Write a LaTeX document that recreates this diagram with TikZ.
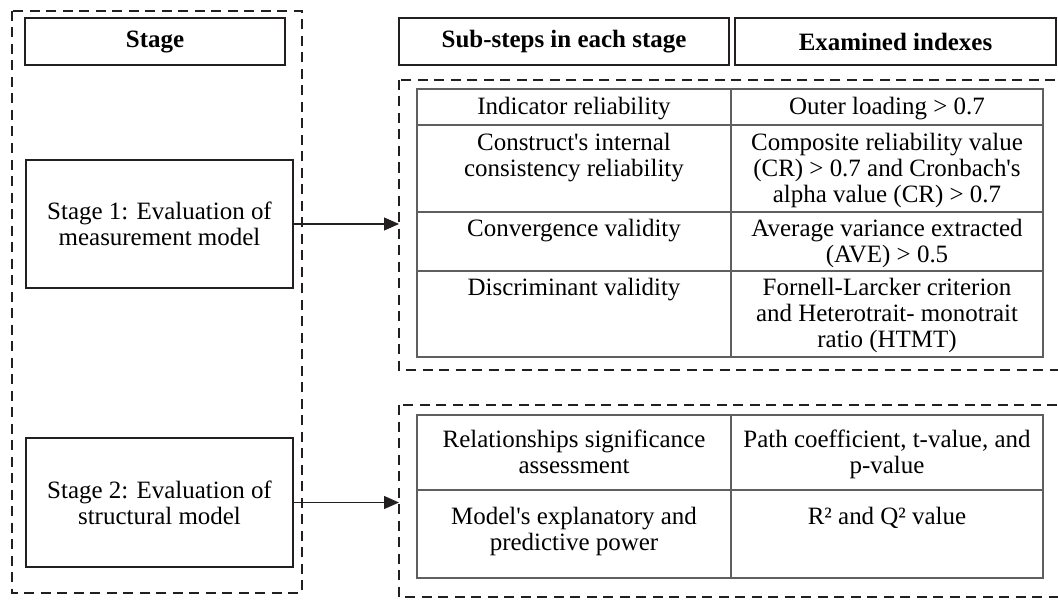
\documentclass[tikz,border=0pt]{standalone}
\usepackage{fontspec}
\setmainfont{Liberation Serif}[Ligatures=TeXOff]
\usepackage{tikz}
\usetikzlibrary{arrows.meta}
\definecolor{rulegray}{RGB}{95,95,95}
\definecolor{boxblack}{RGB}{35,31,32}
\newcommand{\cellfont}{\fontsize{14.2}{14.7}\selectfont}

\begin{document}
\begin{tikzpicture}[x=0.2mm,y=-0.2mm,
  boxnode/.style={draw=boxblack,line width=1.4pt,align=center,font=\cellfont,inner sep=0pt},
  headnode/.style={boxnode,font=\cellfont\bfseries,minimum height=9.4mm},
  groupline/.style={draw=boxblack,line width=1.4pt,dash pattern=on 2mm off 1.3mm},
  tabline/.style={draw=rulegray,line width=0.6pt},
  celltext/.style={anchor=north,align=center,inner sep=0pt,font=\cellfont},
  conn/.style={draw=boxblack,line width=0.6pt,-{Triangle[length=3mm,width=2.6mm]}}]
\useasboundingbox (0,0) rectangle (1058,600);

% stage column
\draw[groupline] (12,11) rectangle (302,593);
\node[headnode,minimum width=52mm] (stagehead) at (155,41.5) {Stage};
\node[boxnode,minimum width=53.4mm,minimum height=25.6mm] (stageA) at (159.5,224) {Stage 1: Evaluation of\\measurement model};
\node[boxnode,minimum width=53.4mm,minimum height=25.8mm] (stageB) at (159.5,502.5) {Stage 2: Evaluation of\\structural model};

% column heads
\node[headnode,minimum width=66mm] (subhead) at (564,41.5) {Sub-steps in each stage};
\node[headnode,minimum width=64.2mm] (idxhead) at (895.5,41.5) {Examined indexes};

% measurement model
\draw[groupline] (399,80) rectangle (1064,370);
\coordinate (grpA) at (399,225);
\draw[tabline] (417,89) rectangle (1043,357);
\draw[tabline] (731,89) -- (731,357);
\foreach \y in {125,212,271} \draw[tabline] (417,\y) -- (1043,\y);
\node[celltext] (indsub) at (574,97) {Indicator reliability};
\node[celltext] (indidx) at (887,97) {Outer loading > 0.7};
\node[celltext] (consub) at (574,133) {Construct's internal\\consistency reliability};
\node[celltext] (conidx) at (887,133) {Composite reliability value\\(CR) > 0.7 and Cronbach's\\alpha value (CR) > 0.7};
\node[celltext] (cvgsub) at (574,219) {Convergence validity};
\node[celltext] (cvgidx) at (887,219) {Average variance extracted\\(AVE) > 0.5};
\node[celltext] (dissub) at (574,278) {Discriminant validity};
\node[celltext] (disidx) at (887,278) {Fornell-Larcker criterion\\and Heterotrait- monotrait\\ratio (HTMT)};

% structural model
\draw[groupline] (399,405) rectangle (1064,597);
\coordinate (grpB) at (399,501);
\draw[tabline] (417,415) rectangle (1043,578);
\draw[tabline] (731,415) -- (731,578);
\draw[tabline] (417,490) -- (1043,490);
\node[celltext] (relsub) at (574,430) {Relationships significance\\assessment};
\node[celltext] (relidx) at (887,430) {Path coefficient, t-value, and\\p-value};
\node[celltext] (expsub) at (574,507) {Model's explanatory and\\predictive power};
\node[celltext] (expidx) at (887,507) {R² and Q² value};

\draw[conn] (stageA.east) -- (stageA.east -| grpA);
\draw[conn] (stageB.east) -- (stageB.east -| grpB);
\end{tikzpicture}
\end{document}
